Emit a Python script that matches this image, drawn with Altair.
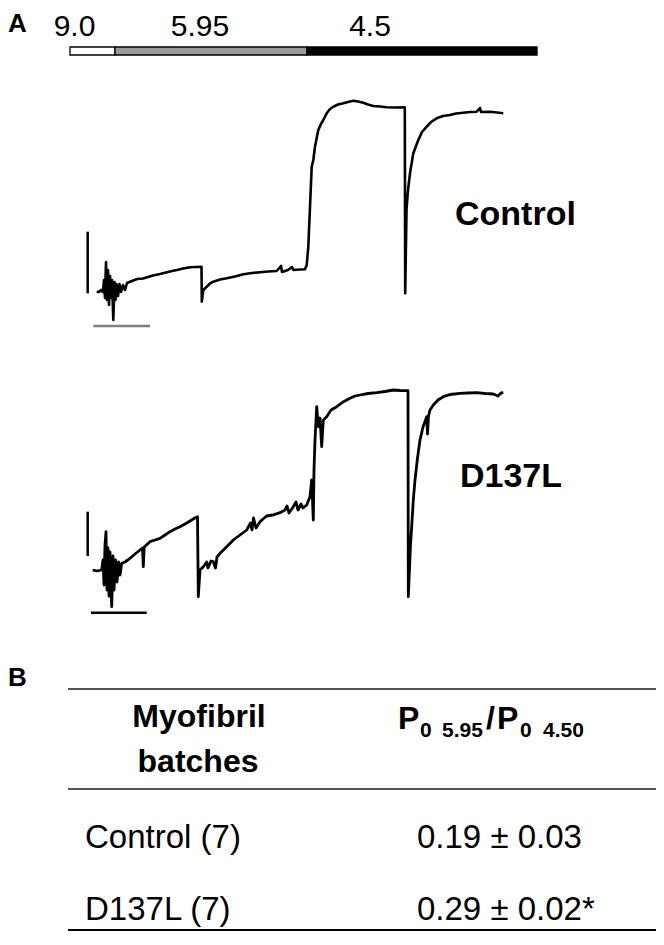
import altair as alt
import pandas as pd

FONT = "Liberation Sans"
W, H = 648, 925

# ---------------- data ----------------
# pCa solution sequence (time in s)
pca_labels = ["9.0", "5.95", "4.5"]
pca_start = [-5.0, 4.0, 42.4]
pca_end = [4.0, 42.4, 88.4]
pca_label_t = [-4.1, 21.0, 55.0]
pca_fill = ["#ffffff", "#999999", "#000000"]

# Control myofibril force trace (time s, force a.u.)
ctrl_t = [0.34, 0.8, 1.2, 1.6, 1.8, 2.0, 2.2, 2.4, 2.6, 2.8, 3.0, 3.2, 3.4, 3.66, 3.9, 4.1, 4.3, 4.6, 4.9, 5.2,
          5.6, 6.0, 6.4, 7.4, 8.4, 9.6, 10.6, 11.6, 13.0, 14.2, 15.4, 16.4, 17.6, 19.0, 20.2, 21.3, 21.36, 21.66,
          22.34, 23.0, 23.66, 25.0, 26.34, 28.0, 29.66, 31.4, 33.0, 34.6, 36.34, 37.2, 37.4, 38.6, 39.4, 39.66,
          41.0, 42.0, 42.34, 42.66, 43.0, 43.34, 43.66, 44.0, 44.34, 44.66, 45.2, 45.66, 46.34, 47.0, 47.66, 48.6,
          49.66, 50.6, 51.66, 52.6, 53.66, 54.6, 55.66, 57.0, 58.34, 60.0, 61.96, 62.04, 62.3, 62.6, 63.0, 63.66,
          64.66, 65.4, 66.34, 67.2, 68.34, 69.6, 71.0, 72.2, 73.66, 75.0, 76.34, 77.0, 77.2, 79.0, 80.4, 81.66]
ctrl_f = [0.15, 0, 1, 0, 6, -3, 15, -4, 11, -6.5, 8, -3, 6, -14, 5, -4, 4, -2, 4, 0,
          3.5, 1, 4.5, 5.5, 6.5, 6.75, 7.5, 8.25, 9, 9.75, 10.5, 11, 11.75, 12.35, 12.5, 12.65, -4.85, 1,
          2.65, 4.25, 5.15, 6.25, 6.85, 7.75, 8.85, 9.5, 9.85, 10.25, 10.5, 13, 10, 11, 12.5, 11,
          11.25, 11.35, 13.5, 22.65, 42.65, 62.65, 66, 72.65, 77, 81, 84, 86, 89.35, 91.5, 92.65, 93.75,
          94.35, 95, 95.65, 95.25, 94.65, 93.75, 93, 92.75, 92.35, 92.25, 92.35, -0.65, 41, 51, 59.35, 69.35,
          76, 80, 82.65, 85, 86.85, 88, 88.5, 89.25, 89.65, 90, 90.15, 92, 90, 90.15, 89.75, 89.35]

# D137L myofibril force trace (time s, force a.u.)
d137_t = [-0.46, 0.4, 1.34, 1.6, 1.8, 2.0, 2.2, 2.4, 2.6, 2.8, 3.0, 3.34, 3.6, 3.8, 4.1, 4.4, 4.7, 5.0, 5.34,
          6.0, 7.0, 8.0, 9.0, 9.5, 9.66, 9.84, 11.0, 12.0, 13.0, 14.0, 15.0, 16.0, 17.0, 18.0, 19.0, 19.8, 20.5,
          20.66, 21.0, 21.66, 22.34, 22.6, 23.2, 23.66, 24.1, 24.4, 25.0, 26.34, 27.66, 29.0, 30.34, 31.1, 31.4,
          31.7, 32.2, 33.0, 33.6, 34.34, 35.6, 37.0, 38.0, 38.4, 38.8, 39.66, 40.2, 40.6, 41.2, 41.6, 42.34,
          43.0, 43.34, 43.5, 43.66, 43.8, 44.0, 44.34, 44.66, 45.0, 45.34, 45.66, 46.34, 47.2, 48.34, 49.6,
          51.0, 52.0, 53.0, 54.6, 56.34, 58.0, 59.66, 61.0, 62.6, 62.66, 62.86, 63.1, 63.34, 63.66, 64.0, 64.5,
          65.0, 65.6, 66.34, 66.5, 66.7, 67.0, 67.66, 68.6, 69.66, 71.0, 73.0, 74.6, 76.34, 78.0, 79.66, 80.6,
          81.2, 81.66]
d137_f = [0, -0.5, 0, 5, -7.5, 12.5, 19.15, -10, 11, -13, 9, -18.35, 7, -10, 5, -6, 4, -2.5, 3.35,
          4, 5.85, 8, 10, 11, 1.65, 11.5, 14.15, 15, 15.85, 17.5, 19.15, 20.5, 21.65, 23, 24.5, 25.75, 26.65,
          -13.35, 0, 1.65, 4, 1, 4.5, 4.15, 1, 6.5, 8.35, 11.65, 15, 17.5, 20, 23.5, 20,
          26, 21, 24.15, 25.5, 27, 27.5, 28.65, 30, 32, 28.5, 31.65, 34, 30, 33, 31, 32.5,
          36.65, 45, 35, 25, 50, 65, 81.65, 71.65, 76, 61.65, 75, 76.65, 80, 81.65, 84,
          85.85, 87, 87.5, 88.25, 88.65, 89.25, 90, 89.75, 89.65, -13.35, -1.65, 12.5, 21.65, 35, 45, 56,
          65, 71.5, 76.65, 68, 77, 80, 82.5, 85, 86.65, 87.75, 88.35, 88.5, 88.65, 88.25, 88, 87,
          88.5, 88.65]

# calibration bars: vertical (t, f_from, f_to), horizontal (t_from, t_to, f)
ctrl_vbar = (-1.46, -0.65, 30.15)
ctrl_hbar = (-0.34, 11.0, -17.0)
d137_vbar = (-1.46, 7.0, 29.15)
d137_hbar = (-0.8, 10.34, -21.35)

# table B
groups = ["Control", "D137L"]
n_batches = [7, 7]
ratio_mean = [0.19, 0.29]
ratio_sem = [0.03, 0.02]
significant = [False, True]

# ---------------- chart ----------------
xs = alt.Scale(domain=[-17.4, 112.2], nice=False, zero=False)
one = pd.DataFrame({"d": [0]})


def txt(s, x, y, size, bold=False, align="left", color="black"):
    return alt.Chart(one).mark_text(
        font=FONT, fontSize=size, fontWeight="bold" if bold else "normal",
        align=align, baseline="alphabetic", color=color
    ).encode(x=alt.value(x), y=alt.value(y), text=alt.value(s))


def trace_layer(t, f, ydom, yrange, vbar, hbar, hcolor, label, lx, ly, lw):
    ys = alt.Scale(domain=ydom, range=yrange, nice=False, zero=False)
    df = pd.DataFrame({"t": t, "f": f, "i": list(range(len(t)))})
    line = alt.Chart(df).mark_line(color="black", strokeWidth=lw, strokeJoin="round").encode(
        x=alt.X("t:Q", scale=xs, axis=None),
        y=alt.Y("f:Q", scale=ys, axis=None),
        order="i:Q",
    )
    vb = pd.DataFrame({"t": [vbar[0]], "f": [vbar[1]], "f2": [vbar[2]]})
    vrule = alt.Chart(vb).mark_rule(color="black", strokeWidth=2.5).encode(
        x=alt.X("t:Q", scale=xs, axis=None),
        y=alt.Y("f:Q", scale=ys, axis=None), y2="f2:Q")
    hb = pd.DataFrame({"t": [hbar[0]], "t2": [hbar[1]], "f": [hbar[2]]})
    hrule = alt.Chart(hb).mark_rule(color=hcolor, strokeWidth=2.5).encode(
        x=alt.X("t:Q", scale=xs, axis=None), x2="t2:Q",
        y=alt.Y("f:Q", scale=ys, axis=None))
    lab = txt(label, lx, ly, 34, bold=True)
    return alt.layer(line, vrule, hrule, lab)


# header: pCa bar
pca_df = pd.DataFrame({"pCa": pca_labels, "start": pca_start, "end": pca_end, "lt": pca_label_t})
bar = alt.Chart(pca_df).mark_rect(stroke="black", strokeWidth=1.3).encode(
    x=alt.X("start:Q", scale=xs, axis=None), x2="end:Q",
    y=alt.value(39), y2=alt.value(47),
    fill=alt.Fill("pCa:N", scale=alt.Scale(domain=pca_labels, range=pca_fill), legend=None),
)
pca_txt = alt.Chart(pca_df).mark_text(font=FONT, fontSize=30, align="center", baseline="alphabetic",
                                      color="black").encode(
    x=alt.X("lt:Q", scale=xs, axis=None), y=alt.value(27.5), text="pCa:N")
header = alt.layer(bar, pca_txt, txt("A", 0, 24, 26, bold=True))

control = trace_layer(ctrl_t, ctrl_f, [-24, 111], [332, 62], ctrl_vbar, ctrl_hbar, "#7f7f7f",
                      "Control", 447, 217, 2.6)
d137 = trace_layer(d137_t, d137_f, [-30, 115], [622, 332], d137_vbar, d137_hbar, "black",
                   "D137L", 452, 479, 2.8)

# table
rows = pd.DataFrame({
    "row": [0, 1],
    "grp": [f"{g} ({n})" for g, n in zip(groups, n_batches)],
    "val": [f"{m:.2f} \u00b1 {s:.2f}" + ("*" if sig else "")
            for m, s, sig in zip(ratio_mean, ratio_sem, significant)],
})
row_y = alt.Scale(domain=[0, 1], range=[840, 912], nice=False, zero=False)
grp_txt = alt.Chart(rows).mark_text(font=FONT, fontSize=33, align="left", baseline="alphabetic",
                                    color="black").encode(
    x=alt.value(77), y=alt.Y("row:Q", scale=row_y, axis=None), text="grp:N")
val_txt = alt.Chart(rows).mark_text(font=FONT, fontSize=33, align="left", baseline="alphabetic",
                                    color="black").encode(
    x=alt.value(409), y=alt.Y("row:Q", scale=row_y, axis=None), text="val:N")


def hline(y, color, w):
    return alt.Chart(one).mark_rule(color=color, strokeWidth=w).encode(
        x=alt.value(60), x2=alt.value(W), y=alt.value(y))


table = alt.layer(
    txt("B", 0, 678, 26, bold=True),
    hline(681, "#555555", 2), hline(781, "#555555", 2), hline(922, "black", 2.2),
    txt("Myofibril", 191, 719, 32, bold=True, align="center"),
    txt("batches", 190, 764, 32, bold=True, align="center"),
    txt("P", 390, 721, 32, bold=True),
    txt("0", 412, 729, 21, bold=True),
    txt("5.95", 434, 729, 21, bold=True),
    txt("/", 478, 721, 32, bold=True),
    txt("P", 489, 721, 32, bold=True),
    txt("0", 512, 729, 21, bold=True),
    txt("4.50", 535, 729, 21, bold=True),
    grp_txt, val_txt,
)

chart = alt.layer(header, control, d137, table).resolve_scale(y="independent").properties(
    width=W, height=H, autosize=alt.AutoSizeParams(type="none"), padding=0
).configure_view(stroke=None)

chart.save("out.html", embed_options={"renderer": "svg", "actions": False})
